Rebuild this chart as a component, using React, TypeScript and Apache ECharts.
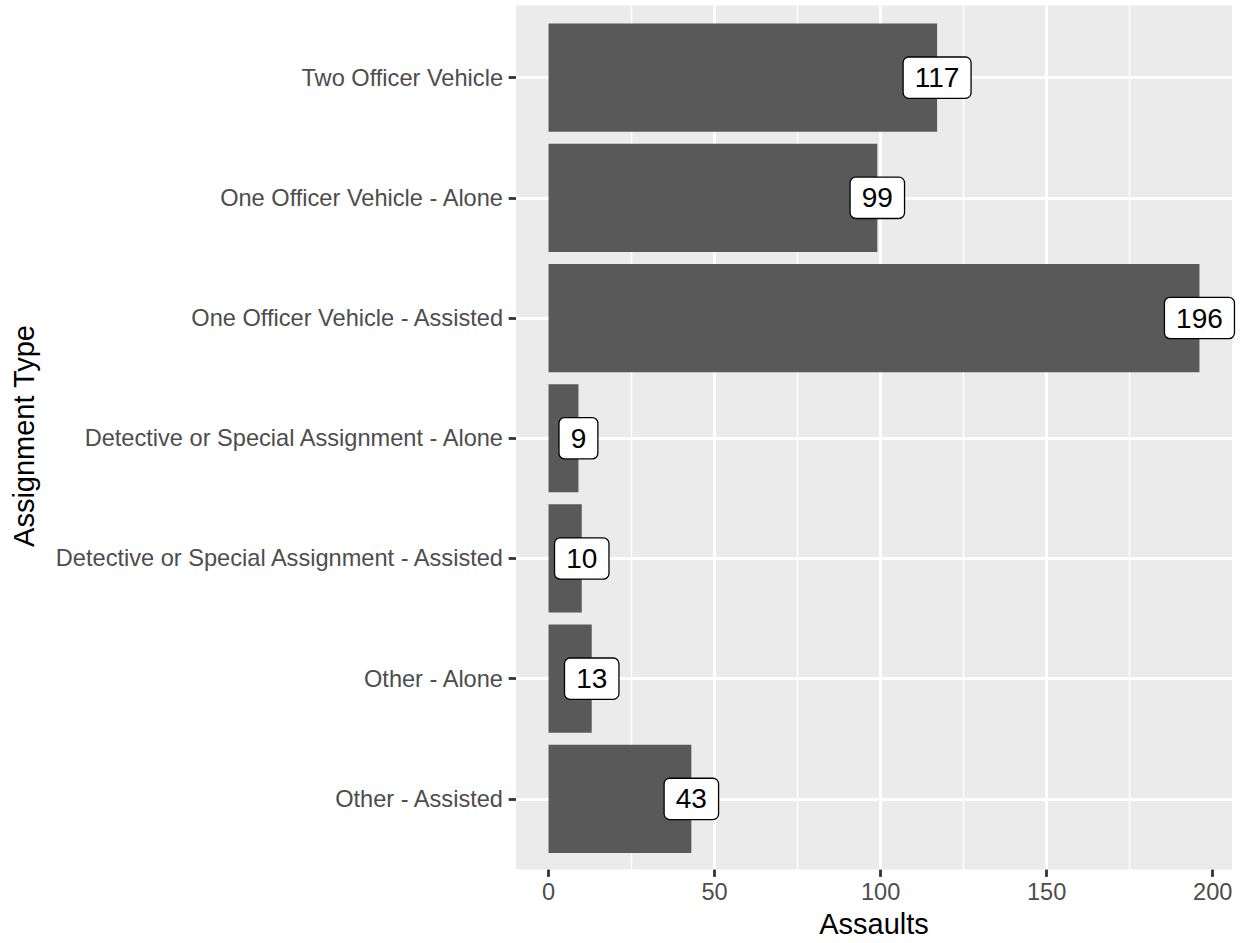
import React, { useEffect, useRef } from "react";
import * as echarts from "echarts";

const categories = [
  "Two Officer Vehicle",
  "One Officer Vehicle - Alone",
  "One Officer Vehicle - Assisted",
  "Detective or Special Assignment - Alone",
  "Detective or Special Assignment - Assisted",
  "Other - Alone",
  "Other - Assisted",
];
const assaults = [117, 99, 196, 9, 10, 13, 43];
const xTicks = [0, 50, 100, 150, 200];

const FONT = "'Liberation Sans', Arial, Helvetica, sans-serif";
const W = 1243;
const H = 943;
// panel geometry
const PANEL_LEFT = 516;
const PANEL_RIGHT = 1232;
const PANEL_TOP = 5.5;
const PANEL_BOTTOM = 871;
const X_MIN = -9.8;
const X_MAX = 205.8;
const UNIT = (PANEL_BOTTOM - PANEL_TOP) / 7.2;
const pxPerVal = (PANEL_RIGHT - PANEL_LEFT) / (X_MAX - X_MIN);
const xToPx = (v: number) => PANEL_LEFT + (v - X_MIN) * pxPerVal;

const AXIS_FS = 23.6;
const TITLE_FS = 29;
const LW = 2.8;

export default function App() {
  const ref = useRef<HTMLDivElement>(null);
  useEffect(() => {
    if (!ref.current) return;
    const chart = echarts.init(ref.current, null, { renderer: "svg" });
    const right = W - PANEL_RIGHT;
    const option: any = {
      animation: false,
      backgroundColor: "#FFFFFF",
      textStyle: { fontFamily: FONT },
      grid: [
        // 0: panel background + x axis
        {
          left: PANEL_LEFT,
          right: right,
          top: PANEL_TOP,
          bottom: H - PANEL_BOTTOM,
          show: true,
          backgroundColor: "#EBEBEB",
          borderWidth: 0,
        },
        // 1: minor vertical grid lines
        {
          left: xToPx(25),
          right: W - xToPx(175),
          top: PANEL_TOP,
          bottom: H - PANEL_BOTTOM,
        },
        // 2: horizontal grid lines at category centres
        {
          left: PANEL_LEFT,
          right: right,
          top: PANEL_TOP + 0.6 * UNIT,
          bottom: H - (PANEL_BOTTOM - 0.6 * UNIT),
        },
        // 3: bars
        {
          left: PANEL_LEFT,
          right: right,
          top: PANEL_TOP + 0.1 * UNIT,
          bottom: H - (PANEL_BOTTOM - 0.1 * UNIT),
        },
      ],
      xAxis: [
        {
          gridIndex: 0,
          type: "value",
          min: X_MIN,
          max: X_MAX,
          name: "Assaults",
          nameLocation: "middle",
          nameGap: 37,
          nameTextStyle: { fontSize: TITLE_FS, color: "#000000", fontFamily: FONT },
          axisLine: { show: false, onZero: false },
          axisTick: {
            show: true,
            length: 7.3,
            customValues: xTicks,
            lineStyle: { color: "#333333", width: LW },
          },
          axisLabel: {
            show: true,
            customValues: xTicks,
            margin: 10.5,
            fontSize: AXIS_FS,
            color: "#4D4D4D",
            fontFamily: FONT,
          },
          splitLine: {
            show: true,
            showMinLine: false,
            showMaxLine: false,
            lineStyle: { color: "#FFFFFF", width: LW },
          },
        },
        {
          gridIndex: 1,
          type: "value",
          min: 25,
          max: 175,
          interval: 50,
          axisLine: { show: false, onZero: false },
          axisTick: { show: false },
          axisLabel: { show: false },
          splitLine: {
            show: true,
            showMinLine: true,
            showMaxLine: true,
            lineStyle: { color: "#FFFFFF", width: LW / 2 },
          },
        },
        { gridIndex: 2, type: "value", min: X_MIN, max: X_MAX, show: false },
        { gridIndex: 3, type: "value", min: X_MIN, max: X_MAX, show: false },
      ],
      yAxis: [
        { gridIndex: 0, type: "value", show: false },
        { gridIndex: 1, type: "value", show: false },
        {
          gridIndex: 2,
          type: "category",
          data: categories,
          inverse: true,
          boundaryGap: false,
          axisLine: { show: false, onZero: false },
          axisTick: { show: false },
          axisLabel: { show: false },
          splitLine: {
            show: true,
            interval: 0,
            lineStyle: { color: "#FFFFFF", width: LW },
          },
        },
        {
          gridIndex: 3,
          type: "category",
          data: categories,
          inverse: true,
          axisLine: { show: false, onZero: false },
          axisTick: {
            show: true,
            alignWithLabel: true,
            length: 7.3,
            interval: 0,
            lineStyle: { color: "#333333", width: LW },
          },
          axisLabel: {
            show: true,
            interval: 0,
            margin: 13,
            fontSize: AXIS_FS,
            color: "#4D4D4D",
            fontFamily: FONT,
          },
          splitLine: { show: false },
        },
      ],
      graphic: [
        {
          type: "text",
          x: 24,
          y: 436,
          rotation: Math.PI / 2,
          style: {
            text: "Assignment Type",
            fontSize: TITLE_FS,
            fontFamily: FONT,
            fill: "#000000",
            align: "center",
            verticalAlign: "middle",
          },
        },
      ],
      series: [
        {
          type: "bar",
          xAxisIndex: 3,
          yAxisIndex: 3,
          data: assaults,
          barWidth: "90%",
          z: 2,
          itemStyle: { color: "#595959" },
          silent: true,
        },
        {
          type: "scatter",
          xAxisIndex: 3,
          yAxisIndex: 3,
          data: assaults.map((v, i) => [v, categories[i]]),
          symbol: "rect",
          symbolSize: 1,
          z: 3,
          silent: true,
          itemStyle: { color: "rgba(0,0,0,0)", opacity: 1 },
          label: {
            show: true,
            position: "inside",
            formatter: (p: any) => String(p.value[0]),
            fontSize: 28,
            lineHeight: 28,
            fontFamily: FONT,
            color: "#000000",
            opacity: 1,
            backgroundColor: "#FFFFFF",
            borderColor: "#000000",
            borderWidth: 1.3,
            borderRadius: 5,
            padding: [6, 11],
          },
        },
      ],
    };
    chart.setOption(option);
    return () => chart.dispose();
  }, []);
  return (
    <div
      ref={ref}
      style={{ position: "fixed", left: 0, top: 0, width: W, height: H }}
    />
  );
}
